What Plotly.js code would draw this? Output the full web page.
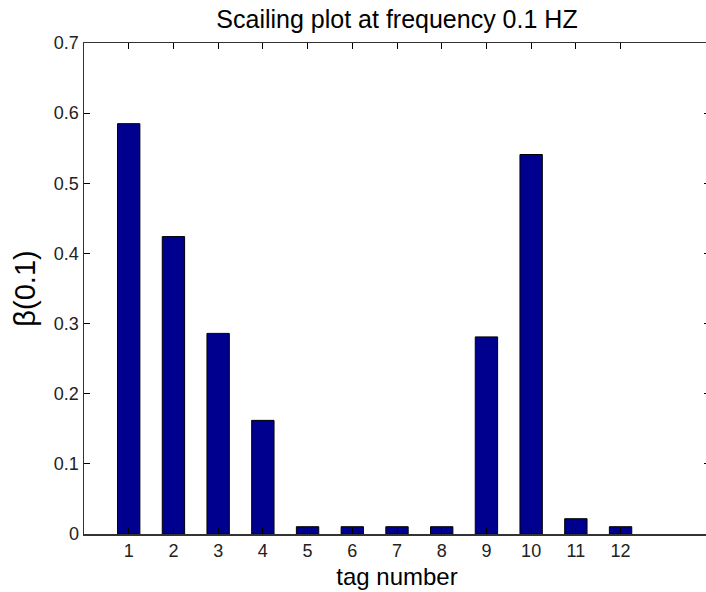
<!DOCTYPE html>
<html>
<head>
<meta charset="utf-8">
<script src="https://cdn.plot.ly/plotly-3.0.1.min.js"></script>
<style>
html, body { margin: 0; padding: 0; overflow: hidden; background: #fff; }
#chart { width: 712px; height: 592px; }
</style>
</head>
<body>
<div id="chart"></div>
<script>
const tags = [1, 2, 3, 4, 5, 6, 7, 8, 9, 10, 11, 12];
const beta = [0.585, 0.424, 0.286, 0.162, 0.0104, 0.0104, 0.0104, 0.0104, 0.281, 0.541, 0.0218, 0.0104];
const xTicks = [1, 2, 3, 4, 5, 6, 7, 8, 9, 10, 11, 12];
const yTicks = [0, 0.1, 0.2, 0.3, 0.4, 0.5, 0.6, 0.7];
const yTickText = ['0', '0.1', '0.2', '0.3', '0.4', '0.5', '0.6', '0.7'];

const FONT = '"Liberation Sans", Arial, Helvetica, sans-serif';

const trace = {
  type: 'bar',
  x: tags,
  y: beta,
  width: 0.5,
  marker: { color: '#00008f', line: { color: '#000000', width: 1 } },
  hoverinfo: 'skip'
};

const layout = {
  width: 712,
  height: 592,
  margin: { l: 84, r: 2, t: 43, b: 58 },
  paper_bgcolor: '#ffffff',
  plot_bgcolor: '#ffffff',
  showlegend: false,
  font: { family: FONT, color: '#000000' },
  title: {
    text: 'Scailing plot at frequency 0.1 HZ',
    font: { family: FONT, size: 25, color: '#000000' },
    xref: 'paper', x: 0.5, xanchor: 'center',
    yref: 'container', y: 0.968, yanchor: 'middle'
  },
  xaxis: {
    range: [0, 14],
    tickmode: 'array',
    tickvals: xTicks,
    ticktext: xTicks.map(String),
    ticks: 'inside',
    ticklen: 6,
    tickwidth: 1,
    tickcolor: '#000000',
    mirror: 'ticks',
    showline: true,
    linecolor: '#333333',
    linewidth: 1.5,
    showgrid: false,
    zeroline: false,
    tickfont: { family: FONT, size: 18, color: '#222222' },
    title: { text: 'tag number', font: { family: FONT, size: 24, color: '#000000' }, standoff: 8 }
  },
  yaxis: {
    range: [0, 0.7],
    tickmode: 'array',
    tickvals: yTicks,
    ticktext: yTickText,
    ticks: 'inside',
    ticklen: 6,
    tickwidth: 1,
    tickcolor: '#000000',
    mirror: 'ticks',
    showline: true,
    linecolor: '#333333',
    linewidth: 1.5,
    showgrid: false,
    zeroline: false,
    tickfont: { family: FONT, size: 18, color: '#222222' },
    title: { text: 'β(0.1)', font: { family: FONT, size: 29, color: '#000000' }, standoff: 9 }
  }
};

Plotly.newPlot('chart', [trace], layout, { displayModeBar: false, staticPlot: true });
</script>
</body>
</html>
